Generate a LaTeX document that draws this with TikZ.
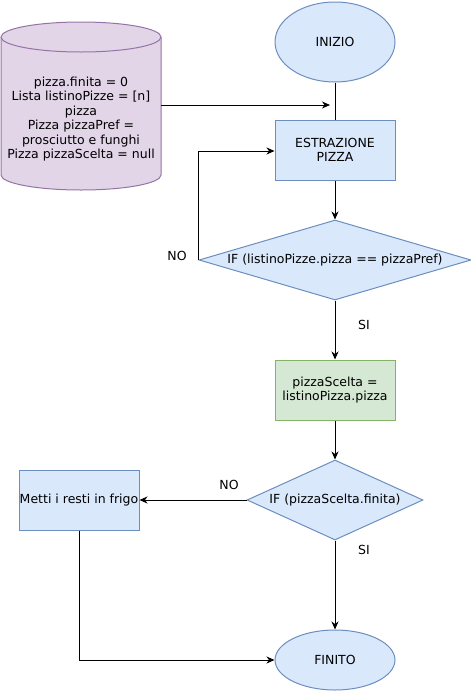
\documentclass[tikz,border=0pt]{standalone}
\usepackage{fontspec}
\setmainfont{DejaVu Sans}
\usetikzlibrary{arrows.meta,shapes.geometric,calc}
\definecolor{bfill}{HTML}{DAE8FC}
\definecolor{bline}{HTML}{6C8EBF}
\definecolor{gfill}{HTML}{D5E8D4}
\definecolor{gline}{HTML}{82B366}
\definecolor{pfill}{HTML}{E1D5E7}
\definecolor{pline}{HTML}{9673A6}
\tikzset{
  every node/.style={font=\fontsize{12.5}{14.5}\selectfont, inner sep=0pt, align=center},
  bluebox/.style={draw=bline, fill=bfill, line width=1pt, minimum width=120pt, minimum height=60pt},
  greenbox/.style={draw=gline, fill=gfill, line width=1pt, minimum width=120pt, minimum height=60pt},
  blueell/.style={draw=bline, fill=bfill, line width=1pt, ellipse},
  bluedia/.style={draw=bline, fill=bfill, line width=1pt, diamond},
  conn/.style={draw=black, line width=1pt},
  arr/.style={conn, -{Stealth[length=8pt, width=7pt, inset=2.5pt]}},
  lbl/.style={},
}
\begin{document}
\begin{tikzpicture}[x=1pt, y=-1pt]
\useasboundingbox (0,0) rectangle (471,691);
% cylinder
\path[fill=pfill, draw=pline, line width=1pt] (1,37) -- (1,175)
  arc[start angle=180, end angle=360, x radius=80pt, y radius=15pt]
  -- (161,37) arc[start angle=0, end angle=180, x radius=80pt, y radius=15pt] -- cycle;
\draw[pline, line width=1pt] (1,37) arc[start angle=180, end angle=360, x radius=80pt, y radius=15pt];
\node[minimum width=160pt, minimum height=168pt] (db) at (81,106) {};
\node (dbtext) at (81,119) {pizza.finita = 0\\Lista listinoPizze = [n]\\pizza\\Pizza pizzaPref =\\prosciutto e funghi\\Pizza pizzaScelta = null};

% nodes
\node[blueell, minimum width=120pt, minimum height=80pt] (inizio) at (335,42) {INIZIO};
\node[bluebox] (estr) at (335,150) {ESTRAZIONE\\PIZZA};
\node[bluedia, minimum width=272pt, minimum height=80pt, aspect=3.4] (if1) at (335,260) {};
\node at (335,260) {IF (listinoPizze.pizza == pizzaPref)};
\node[greenbox] (scelta) at (335,390) {pizzaScelta =\\listinoPizza.pizza};
\node[bluedia, minimum width=176pt, minimum height=80pt, aspect=2.2] (if2) at (335,500) {};
\node at (335,500) {IF (pizzaScelta.finita)};
\node[bluebox] (frigo) at (79,500) {Metti i resti in frigo};
\node[blueell, minimum width=120pt, minimum height=60pt] (finito) at (335,660) {FINITO};

% labels
\node[lbl] (no1) at (177,256) {NO};
\node[lbl] (si1) at (364,325) {SI};
\node[lbl] (no2) at (229,485) {NO};
\node[lbl] (si2) at (364,550) {SI};

% connectors
\coordinate (join) at (330,105);
\draw[arr] (db.east |- join) -- (join);
\draw[conn] (inizio.south) -- (estr.north);
\draw[arr] (estr.south) -- (if1.north);
\draw[arr] (if1.west) -- ++(0,-109) -- (estr.west |- 0,151);
\draw[arr] (if1.south) -- (scelta.north);
\draw[arr] (scelta.south) -- (if2.north);
\draw[arr] (if2.west) -- (frigo.east);
\draw[arr] (if2.south) -- (finito.north);
\draw[arr] (frigo.south) -- (frigo.south |- finito.west) -- (finito.west);
\end{tikzpicture}
\end{document}
